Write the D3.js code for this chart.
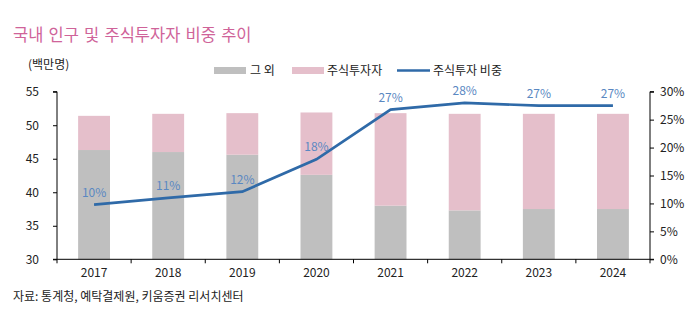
<!DOCTYPE html>
<html>
<head>
<meta charset="utf-8">
<script src="https://cdn.jsdelivr.net/npm/d3@7"></script>
<style>
  body { margin: 0; background: #fff; }
  svg { display: block; font-family: "Noto Sans CJK KR", "Noto Sans", sans-serif; }
</style>
</head>
<body>
<svg id="chart" width="697" height="324"></svg>
<script>
// data (백만명, %)
var years = ['2017', '2018', '2019', '2020', '2021', '2022', '2023', '2024'];
var others = [46.3, 46.0, 45.6, 42.6, 38.0, 37.3, 37.5, 37.5];
var investors = [5.1, 5.7, 6.2, 9.3, 13.8, 14.4, 14.2, 14.2];
var ratio = [9.8, 11.0, 12.1, 17.9, 26.8, 28.0, 27.5, 27.5];
var ratioLabels = ['10%', '11%', '12%', '18%', '27%', '28%', '27%', '27%'];
var leftTicks = [30, 35, 40, 45, 50, 55];
var rightTicks = [0, 5, 10, 15, 20, 25, 30];

var grayCol = '#bfbfbf',
    pinkCol = '#e5bfcb',
    lineCol = '#2f6aa8',
    labelCol = '#5a88c2',
    textCol = '#222';

var svg = d3.select('#chart');
var pL = 57, pR = 650, pT = 91.7, pB = 259.3;

var x = d3.scaleBand().domain(years).range([pL, pR]).paddingInner(0.57).paddingOuter(0.285);
var y = d3.scaleLinear().domain([30, 55]).range([pB, pT]);
var y2 = d3.scaleLinear().domain([0, 30]).range([pB, pT]);

// title
svg.append('text').attr('x', 13).attr('y', 41)
  .attr('fill', '#cf6399').attr('font-size', 16.5).attr('word-spacing', 1.5)
  .text('국내 인구 및 주식투자자 비중 추이');

svg.append('text').attr('x', 28).attr('y', 69)
  .attr('fill', textCol).attr('font-size', 12)
  .text('(백만명)');

// legend
var lg = svg.append('g').attr('font-size', 12).attr('fill', textCol);
lg.append('rect').attr('x', 214).attr('y', 67).attr('width', 32).attr('height', 7).attr('fill', grayCol);
lg.append('text').attr('x', 250).attr('y', 74.5).text('그 외');
lg.append('rect').attr('x', 292).attr('y', 67).attr('width', 32).attr('height', 7).attr('fill', pinkCol);
lg.append('text').attr('x', 327).attr('y', 74.5).text('주식투자자');
lg.append('line').attr('x1', 397).attr('x2', 430).attr('y1', 70.5).attr('y2', 70.5)
  .attr('stroke', lineCol).attr('stroke-width', 2.7);
lg.append('text').attr('x', 433).attr('y', 74.5).text('주식투자 비중');

// bars
var bars = svg.append('g');
bars.selectAll('rect.o').data(years).join('rect')
  .attr('class', 'o')
  .attr('x', function(d) { return x(d); })
  .attr('width', x.bandwidth())
  .attr('y', function(d, i) { return y(others[i]); })
  .attr('height', function(d, i) { return y(30) - y(others[i]); })
  .attr('fill', grayCol);
bars.selectAll('rect.p').data(years).join('rect')
  .attr('class', 'p')
  .attr('x', function(d) { return x(d); })
  .attr('width', x.bandwidth())
  .attr('y', function(d, i) { return y(others[i] + investors[i]); })
  .attr('height', function(d, i) { return y(others[i]) - y(others[i] + investors[i]); })
  .attr('fill', pinkCol);

// axes
var axL = svg.append('g').attr('transform', 'translate(' + pL + ',0)')
  .call(d3.axisLeft(y).tickValues(leftTicks).tickSize(4).tickPadding(14));
var axR = svg.append('g').attr('transform', 'translate(' + pR + ',0)')
  .call(d3.axisRight(y2).tickValues(rightTicks).tickSize(4).tickPadding(6)
    .tickFormat(function(d) { return d + '%'; }));
var axB = svg.append('g').attr('transform', 'translate(0,' + pB + ')')
  .call(d3.axisBottom(x).tickSize(0).tickPadding(9));

[axL, axR, axB].forEach(function(a) {
  a.select('.domain').attr('stroke', '#000');
  a.selectAll('.tick line').attr('stroke', '#000');
  a.selectAll('text').attr('font-size', 12).attr('fill', textCol)
    .attr('font-family', '"Noto Sans CJK KR", sans-serif');
});
axL.select('.domain').attr('d', 'M-4,' + pT + 'H0V' + pB + 'H-4');
axR.select('.domain').attr('d', 'M4,' + pT + 'H0V' + pB + 'H4');
axB.select('.domain').attr('d', 'M' + pL + ',0H' + pR);

// category boundary ticks on the x axis
var step = x.step();
axB.selectAll('line.sep').data(d3.range(years.length + 1)).join('line')
  .attr('class', 'sep')
  .attr('x1', function(i) { return pL + i * step; })
  .attr('x2', function(i) { return pL + i * step; })
  .attr('y1', 0).attr('y2', 4).attr('stroke', '#000');

// ratio line
var cx = function(i) { return x(years[i]) + x.bandwidth() / 2; };
var line = d3.line().x(function(d, i) { return cx(i); }).y(function(d) { return y2(d); });
svg.append('path').datum(ratio)
  .attr('d', line).attr('fill', 'none')
  .attr('stroke', lineCol).attr('stroke-width', 2.7);

svg.append('g').selectAll('text').data(ratio).join('text')
  .attr('x', function(d, i) { return cx(i); })
  .attr('y', function(d) { return y2(d) - 8; })
  .attr('text-anchor', 'middle').attr('font-size', 12).attr('fill', labelCol)
  .text(function(d, i) { return ratioLabels[i]; });

// source
svg.append('text').attr('x', 13).attr('y', 301)
  .attr('fill', textCol).attr('font-size', 12)
  .text('자료: 통계청, 예탁결제원, 키움증권 리서치센터');
</script>
</body>
</html>
